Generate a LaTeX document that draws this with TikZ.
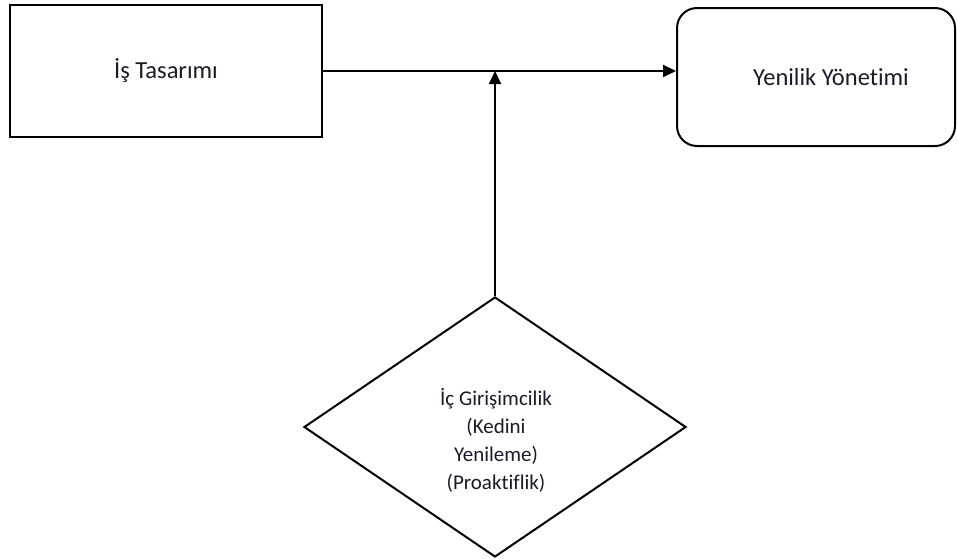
\documentclass[tikz,border=0pt]{standalone}
\usepackage{fontspec}
\setmainfont[Ligatures={NoCommon}]{Carlito}
\usetikzlibrary{shapes.geometric,arrows.meta}
\definecolor{ink}{HTML}{1A1A2A}
\tikzset{
  box/.style={draw=black, line width=2.6pt, inner sep=0pt, text=ink,
    font=\fontsize{24.5}{28}\selectfont},
  roundbox/.style={draw=black, line width=2pt, rounded corners=20pt, inner sep=0pt},
  decision/.style={draw=black, diamond, line width=2pt, inner sep=0pt},
  caption/.style={text=ink, align=center},
  link/.style={draw=black, line width=2pt, -{Triangle[length=13pt,width=12pt]}}
}
\begin{document}
\begin{tikzpicture}[x=1pt, y=-1pt]
  \useasboundingbox (0,0) rectangle (957,558);

  % work design box
  \node[box, minimum width=312pt, minimum height=132pt] (design) at (166,71) {İş Tasarımı};

  % innovation management box with its title
  \node[roundbox, minimum width=278pt, minimum height=138pt] (innov) at (816,77) {};
  \node[caption, font=\fontsize{24.5}{28}\selectfont] (innovtext) at (831,77) {Yenilik Yönetimi};

  % intrapreneurship decision diamond
  \node[decision, minimum width=382pt, minimum height=260pt] (intra) at (495,427) {};
  \node[caption, font=\fontsize{21}{28}\selectfont] (intratext) at (496,440)
    {İç Girişimcilik\\(Kedini\\Yenileme)\\(Proaktiflik)};

  % connectors
  \coordinate (join) at (intra.north |- design.east);
  \draw[link] (design.east) -- (design.east -| innov.west);
  \draw[link] (intra.north) -- (join);
\end{tikzpicture}
\end{document}
